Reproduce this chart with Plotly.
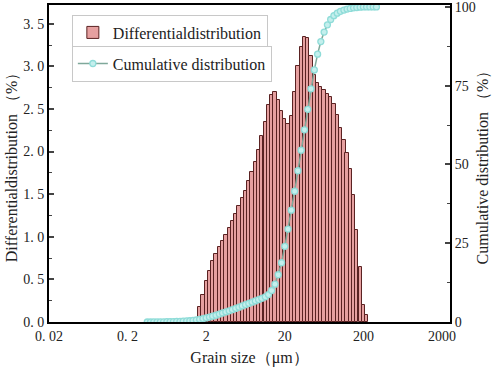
import numpy as np
import plotly.graph_objects as go

# Grain size bin centres (µm)
sizes = [0.356, 0.392, 0.431, 0.475, 0.522, 0.575, 0.633, 0.696, 0.767, 0.844,
         0.929, 1.02, 1.13, 1.24, 1.36, 1.50, 1.65, 1.82, 2.00, 2.20,
         2.42, 2.67, 2.94, 3.23, 3.56, 3.92, 4.31, 4.75, 5.23, 5.75,
         6.33, 6.97, 7.67, 8.44, 9.29, 10.2, 11.3, 12.4, 13.6, 15.0,
         16.5, 18.2, 20.0, 22.0, 24.2, 26.7, 29.4, 32.3, 35.6, 39.2,
         43.1, 47.5, 52.3, 57.5, 63.3, 69.7, 76.7, 84.4, 92.9, 102,
         113, 124, 136, 150, 165, 182, 200, 220, 242, 267, 293]

# Differential distribution (%) for bins starting at 1.50 µm
differential = [0.05, 0.18, 0.32, 0.48, 0.60, 0.72, 0.80, 0.88, 0.95, 1.02,
                1.10, 1.18, 1.27, 1.36, 1.45, 1.54, 1.65, 1.76, 1.88, 2.02,
                2.18, 2.35, 2.55, 2.66, 2.70, 2.60, 2.48, 2.38, 2.32, 2.42,
                2.70, 3.00, 3.23, 3.35, 3.33, 3.12, 2.90, 2.80, 2.76, 2.72,
                2.68, 2.64, 2.56, 2.43, 2.28, 2.14, 1.98, 1.79, 1.49, 1.08,
                0.65, 0.20, 0.08]
diff_start = 15

# Cumulative distribution (%) for all bins
cumulative = [0.0, 0.0, 0.02, 0.03, 0.05, 0.07, 0.09, 0.12, 0.15, 0.18,
              0.22, 0.27, 0.33, 0.4, 0.5, 0.65, 0.85, 1.05, 1.3, 1.55,
              1.85, 2.15, 2.5, 2.85, 3.2, 3.55, 3.9, 4.3, 4.7, 5.1,
              5.5, 5.9, 6.3, 6.7, 7.1, 7.5, 8.0, 8.7, 10.0, 12.0,
              15.0, 18.8, 24.0, 29.5, 35.5, 41.5, 48.0, 54.5, 61.0, 67.5,
              74.0, 80.0, 85.0, 89.0, 92.0, 94.3, 96.0, 97.2, 98.0, 98.6,
              99.0, 99.3, 99.5, 99.7, 99.8, 99.9, 100, 100, 100, 100, 100]

x_ticks = [0.02, 0.2, 2, 20, 200, 2000]
x_ticktext = ["0. 02", "0. 2", "2", "20", "200", "2000"]
y_ticks = [0, 0.5, 1.0, 1.5, 2.0, 2.5, 3.0, 3.5]
y_ticktext = ["0. 0", "0. 5", "1. 0", "1. 5", "2. 0", "2. 5", "3. 0", "3. 5"]
y2_ticks = [0, 25, 50, 75, 100]

FONT = "Liberation Serif"

bar_x = np.array(sizes[diff_start:diff_start + len(differential)])
ratio = 10 ** (1 / 24)
bar_w = bar_x * (ratio ** 0.5 - ratio ** -0.5)
bar_off = -bar_x * (1 - ratio ** -0.5)

fig = go.Figure()
fig.add_trace(go.Bar(
    x=bar_x, y=differential, width=bar_w, offset=bar_off,
    name="Differentialdistribution",
    marker=dict(color="#e6a0a0", line=dict(color="#5a2222", width=1)),
    legend="legend",
))
fig.add_trace(go.Scatter(
    x=sizes, y=cumulative, yaxis="y2", mode="lines+markers",
    name="Cumulative distribution",
    line=dict(color="#7fa89a", width=1.5),
    marker=dict(symbol="circle", size=6, color="#c4efed",
                line=dict(color="#8fdcd8", width=1.3)),
    legend="legend2",
))

axis_font = dict(family=FONT, size=14, color="#222")
fig.update_layout(
    width=498, height=370,
    margin=dict(l=49, r=48, t=5, b=48, autoexpand=False),
    paper_bgcolor="white", plot_bgcolor="white",
    font=dict(family=FONT, size=14, color="#222"),
    bargap=0,
    xaxis=dict(type="log", range=[np.log10(0.02), 3.403], automargin=False,
               tickmode="array", tickvals=x_ticks, ticktext=x_ticktext,
               ticks="", showline=True, linewidth=2, linecolor="black",
               mirror=True, showgrid=False, zeroline=False,
               tickfont=axis_font, ticklabeloverflow="allow",
               title=dict(text="Grain size（μm）", font=dict(family=FONT, size=16),
                          standoff=9)),
    yaxis=dict(range=[0, 3.72], tickmode="array", tickvals=y_ticks,
               ticktext=y_ticktext, ticks="inside", ticklen=5, tickwidth=1.5,
               showline=True, linewidth=2, linecolor="black", automargin=False,
               showgrid=False, zeroline=False, tickfont=axis_font,
               ticklabeloverflow="allow",
               minor=dict(tickmode="linear", tick0=0, dtick=0.25,
                          ticks="inside", ticklen=3, tickwidth=1.2),
               title=dict(text="Differentialdistribution （%）",
                          font=dict(family=FONT, size=16), standoff=2)),
    yaxis2=dict(range=[0, 100.6], overlaying="y", side="right",
                tickmode="array", tickvals=y2_ticks, automargin=False,
                ticks="inside", ticklen=5, tickwidth=1.5,
                showline=True, linewidth=2, linecolor="black",
                showgrid=False, zeroline=False, tickfont=axis_font,
                ticklabeloverflow="allow",
                minor=dict(tickmode="linear", tick0=0, dtick=12.5,
                           ticks="inside", ticklen=3, tickwidth=1.2),
                title=dict(text="Cumulative distribution （%）",
                           font=dict(family=FONT, size=16), standoff=2)),
    legend=dict(x=0.057, y=0.970, xanchor="left", yanchor="top",
                bgcolor="white", bordercolor="#c8c8c8", borderwidth=1,
                font=dict(family=FONT, size=16, color="#222"),
                itemwidth=30, tracegroupgap=0),
    legend2=dict(x=0.057, y=0.872, xanchor="left", yanchor="top",
                 bgcolor="white", bordercolor="#c8c8c8", borderwidth=1,
                 font=dict(family=FONT, size=16, color="#222"),
                 itemwidth=30, tracegroupgap=0),
    showlegend=True,
)

fig.write_html("out.html",
               config={"displayModeBar": False},
               post_script="document.body.style.margin='0px';"
                           "document.body.style.padding='0px';")
